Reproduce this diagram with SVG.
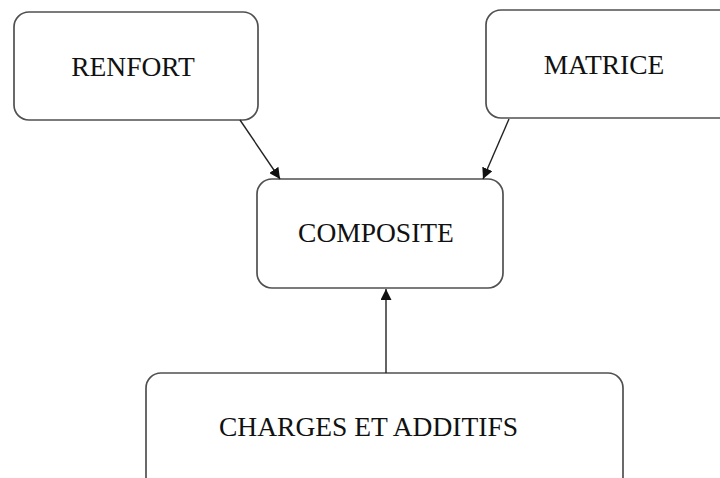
<svg xmlns="http://www.w3.org/2000/svg" width="720" height="478" viewBox="0 0 720 478">
<style>
.box{fill:#fff;stroke:#505050;stroke-width:1.7}
.lbl{font-family:"Liberation Serif","Times New Roman",serif;font-size:27.5px;fill:#111;text-anchor:middle}
.con{stroke:#222;stroke-width:1.4;fill:none}
</style>
<defs>
<marker id="ah" viewBox="0 0 10 10" refX="10" refY="5" markerWidth="11" markerHeight="11" markerUnits="userSpaceOnUse" orient="auto">
<path d="M0,0 L10,5 L0,10 z" fill="#111"/>
</marker>
</defs>
<rect width="720" height="478" fill="#fff"/>
<g id="renfort"><rect class="box" x="14" y="12" width="244" height="108" rx="15"/><text class="lbl" x="133" y="76">RENFORT</text></g>
<g id="matrice"><rect class="box" x="486" y="10" width="250" height="108" rx="15"/><text class="lbl" x="604" y="74">MATRICE</text></g>
<g id="composite"><rect class="box" x="257" y="179" width="246" height="109" rx="15"/><text class="lbl" x="376" y="242">COMPOSITE</text></g>
<g id="charges"><rect class="box" x="146" y="373" width="477" height="130" rx="15"/><text class="lbl" x="368.5" y="436">CHARGES ET ADDITIFS</text></g>
<g id="connectors">
<line class="con" x1="240" y1="120" x2="280" y2="179" marker-end="url(#ah)"/>
<line class="con" x1="509" y1="119" x2="483" y2="179" marker-end="url(#ah)"/>
<line class="con" x1="386" y1="373" x2="386" y2="289" marker-end="url(#ah)"/>
</g>
</svg>
